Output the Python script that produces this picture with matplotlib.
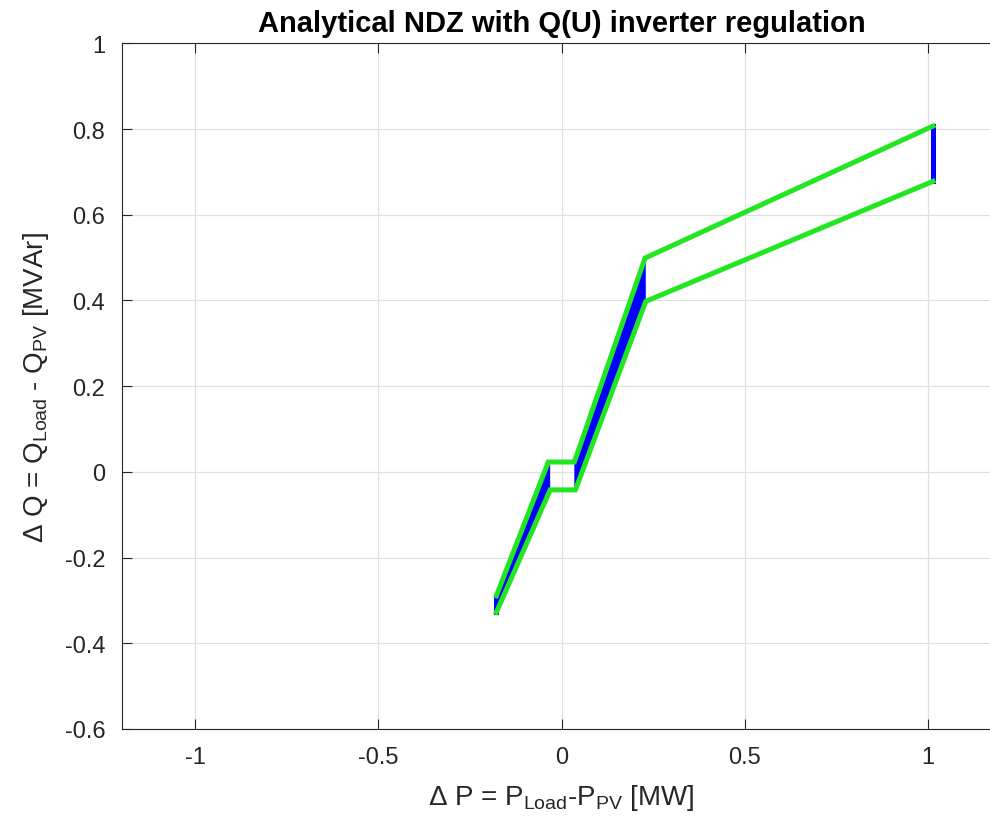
import matplotlib
matplotlib.use("Agg")
import matplotlib.pyplot as plt

plt.rcParams['font.family'] = ['Liberation Sans', 'DejaVu Sans']
plt.rcParams['mathtext.fontset'] = 'custom'
plt.rcParams['mathtext.rm'] = 'Liberation Sans'
plt.rcParams['mathtext.it'] = 'Liberation Sans'

# NDZ boundary (dP in MW, dQ in MVAr)
upper_p = [-0.178, -0.036, 0.035, 0.228, 1.014]
upper_q = [-0.289, 0.023, 0.023, 0.499, 0.807]
lower_p = [-0.178, -0.031, 0.038, 0.230, 1.014]
lower_q = [-0.328, -0.042, -0.042, 0.398, 0.678]

x_ticks = [-1, -0.5, 0, 0.5, 1]
x_labels = ['-1', '-0.5', '0', '0.5', '1']
y_ticks = [-0.6, -0.4, -0.2, 0, 0.2, 0.4, 0.6, 0.8, 1]
y_labels = ['-0.6', '-0.4', '-0.2', '0', '0.2', '0.4', '0.6', '0.8', '1']

green = '#22e622'
blue = '#0000ff'

fig = plt.figure(figsize=(9.9, 8.28), dpi=100)
ax = fig.add_axes([0.1232, 0.1184, 0.888, 0.828])

# blue fill of the two steep strips
s1_x = [upper_p[0], upper_p[1], lower_p[1], lower_p[1], lower_p[0]]
s1_y = [upper_q[0], upper_q[1], upper_q[1], lower_q[1], lower_q[0]]
ax.fill(s1_x, s1_y, color=blue, lw=0)
s2_x = [upper_p[2], upper_p[3], lower_p[3], lower_p[3], lower_p[2], upper_p[2]]
s2_y = [upper_q[2], upper_q[3], upper_q[3], lower_q[3], lower_q[2], lower_q[2]]
ax.fill(s2_x, s2_y, color=blue, lw=0)

# blue end edges
ax.plot([upper_p[0], lower_p[0]], [upper_q[0], lower_q[0]], color=blue, lw=3.6)
ax.plot([upper_p[-1], lower_p[-1]], [upper_q[-1], lower_q[-1]], color=blue, lw=3.6)

# green boundary curves
ax.plot(upper_p, upper_q, color=green, lw=3.6, solid_joinstyle='miter')
ax.plot(lower_p, lower_q, color=green, lw=3.6, solid_joinstyle='miter')

ax.set_xlim(-1.2, 1.2)
ax.set_ylim(-0.6, 1.0)
ax.set_xticks(x_ticks)
ax.set_xticklabels(x_labels)
ax.set_yticks(y_ticks)
ax.set_yticklabels(y_labels)
ax.tick_params(direction='in', length=7, width=0.8, top=True, right=False,
               labelsize=17, colors='#262626', pad=12)
ax.grid(True, color='#e0e0e0', lw=0.9)
ax.set_axisbelow(True)
for s in ax.spines.values():
    s.set_color('#262626')
    s.set_linewidth(0.8)
ax.spines['right'].set_visible(False)

ax.set_title('Analytical NDZ with Q(U) inverter regulation', fontsize=21,
             fontweight='bold', pad=9)
ax.set_xlabel(r'$\Delta$ P = P$_{\mathrm{Load}}$-P$_{\mathrm{PV}}$ [MW]',
              fontsize=20, color='#262626', labelpad=10)
ax.set_ylabel(r'$\Delta$ Q = Q$_{\mathrm{Load}}$ - Q$_{\mathrm{PV}}$ [MVAr]',
              fontsize=20, color='#262626', labelpad=10)

fig.savefig('out.png', dpi=100)
